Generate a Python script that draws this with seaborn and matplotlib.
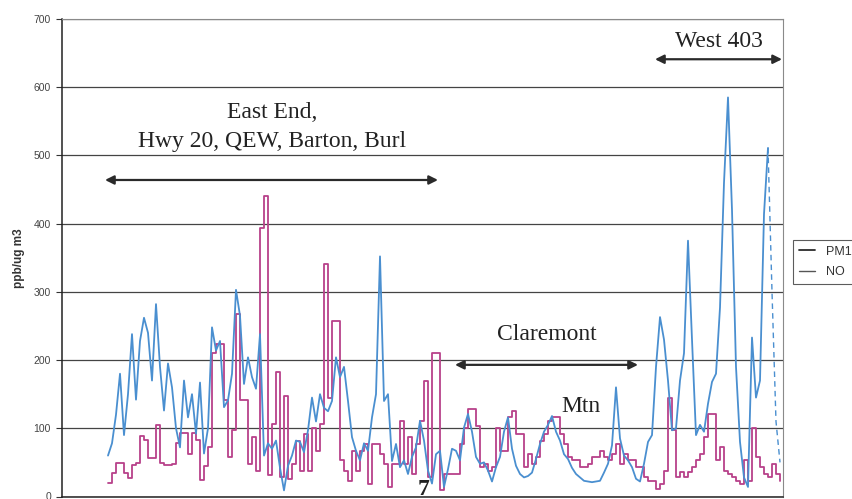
import matplotlib
matplotlib.use("Agg")
import matplotlib.pyplot as plt
from matplotlib.lines import Line2D
import numpy as np
import pandas as pd
import seaborn as sns

# NO concentration along the drive (ppb), one reading per sample
no_ppb = [
    60, 78, 120, 180, 90, 150, 238, 142, 228, 262,
    240, 170, 282, 190, 126, 195, 160, 100, 72, 170,
    116, 150, 92, 167, 63, 100, 248, 214, 228, 131,
    141, 180, 303, 265, 165, 204, 175, 158, 238, 60,
    78, 70, 82, 42, 9, 45, 60, 82, 80, 65,
    97, 145, 110, 150, 130, 125, 140, 204, 175, 190,
    140, 87, 67, 53, 78, 67, 116, 150, 352, 140,
    150, 52, 77, 43, 53, 33, 58, 72, 111, 82,
    38, 19, 62, 67, 14, 40, 70, 67, 53, 101,
    121, 95, 58, 48, 50, 38, 22, 43, 58, 95,
    116, 70, 45, 33, 28, 30, 35, 55, 77, 95,
    105, 118, 95, 82, 62, 55, 42, 33, 28, 23,
    22, 21, 22, 23, 35, 48, 75, 160, 85, 60,
    53, 43, 26, 22, 48, 80, 90, 190, 263, 230,
    170, 97, 100, 170, 210, 375, 230, 90, 105, 95,
    136, 168, 180, 277, 460, 585, 420, 190, 80, 28,
    14, 233, 145, 170, 414, 511, 300, 110, 50,
]

# PM10 concentration (ug/m3), stepped averages on the same samples
pm10_ugm3 = [
    20, 34, 49, 49, 34, 27, 46, 49, 88, 83,
    56, 56, 105, 49, 46, 46, 48, 78, 93, 93,
    63, 93, 83, 24, 44, 73, 210, 224, 224, 141,
    58, 98, 268, 141, 141, 48, 87, 38, 394, 441,
    31, 106, 182, 28, 148, 26, 48, 82, 38, 92,
    38, 101, 67, 106, 341, 145, 258, 258, 53, 38,
    23, 67, 38, 67, 77, 18, 77, 77, 62, 48,
    14, 48, 48, 111, 48, 87, 33, 77, 111, 170,
    28, 211, 211, 9, 33, 33, 33, 33, 77, 101,
    128, 128, 104, 43, 48, 38, 43, 101, 67, 67,
    116, 126, 92, 92, 43, 62, 48, 58, 82, 92,
    111, 116, 116, 92, 77, 58, 53, 53, 43, 43,
    48, 58, 58, 67, 58, 53, 62, 77, 48, 62,
    53, 53, 43, 43, 28, 23, 23, 11, 19, 38,
    145, 97, 28, 36, 28, 36, 43, 53, 62, 87,
    121, 121, 53, 72, 38, 33, 28, 23, 19, 53,
    23, 101, 58, 43, 33, 28, 48, 33, 23,
]

y_ticks = [0, 100, 200, 300, 400, 500, 600, 700]
series_names = ["PM10", "NO"]

sample = np.arange(len(no_ppb))
df = pd.DataFrame({"sample": sample, "NO": no_ppb, "PM10": pm10_ugm3})

sns.set_style("white")
plt.rcParams["font.family"] = ["Liberation Sans", "DejaVu Sans"]

fig = plt.figure(figsize=(8.52, 4.99), dpi=100)
ax = fig.add_axes([62 / 852, 2.5 / 499, 721 / 852, 477.5 / 499])

pm_color = "#b8418a"
no_color = "#4a8fd0"

sns.lineplot(data=df, x="sample", y="PM10", ax=ax, color=pm_color,
             lw=1.3, drawstyle="steps-post", zorder=3)
tail = 165
sns.lineplot(data=df.iloc[:tail + 1], x="sample", y="NO", ax=ax,
             color=no_color, lw=1.3, zorder=4)
sns.lineplot(data=df.iloc[tail:], x="sample", y="NO", ax=ax,
             color=no_color, lw=1.0, ls=(0, (4, 3)), zorder=4)

ax.set_xlim(-11.5, 168.75)
ax.set_ylim(0, 700)
ax.set_yticks(y_ticks)
ax.set_yticklabels([str(v) for v in y_ticks])
ax.set_xticks([])
ax.set_xlabel("")
ax.set_ylabel("ppb/ug m3", fontsize=8.5, fontweight="bold", color="#333333",
              labelpad=6)
ax.tick_params(axis="y", direction="out", length=4, width=0.8,
               color="#333333", labelsize=7.5, labelcolor="#444444", pad=4,
               left=True)
ax.yaxis.grid(True, color="#444444", lw=0.9)
ax.set_axisbelow(True)

for side in ("left", "bottom"):
    ax.spines[side].set_color("#222222")
    ax.spines[side].set_linewidth(1.1)
for side in ("top", "right"):
    ax.spines[side].set_color("#8a8a8a")
    ax.spines[side].set_linewidth(0.8)

# Route segment labels and spans
serif = ["Liberation Serif", "DejaVu Serif"]
txt = dict(family=serif, fontsize=17, color="#222222", ha="center",
           va="baseline")
ax.text(41, 555, "East End,", **txt)
ax.text(41, 512, "Hwy 20, QEW, Barton, Burl", **txt)
ax.text(109.6, 229, "Claremont", **txt)
ax.text(118.2, 124, "Mtn", **txt)
ax.text(152.7, 659, "West 403", **txt)
ax.text(78.8, 2, "7", family=serif, fontsize=17, fontweight="bold",
        color="#222222", ha="center", va="baseline")

arrow = dict(arrowstyle="<|-|>", color="#2a2a2a", lw=1.6,
             mutation_scale=13, shrinkA=0, shrinkB=0)
ax.annotate("", xy=(82.5, 464), xytext=(-0.75, 464), arrowprops=arrow)
ax.annotate("", xy=(132.5, 193), xytext=(86.75, 193), arrowprops=arrow)
ax.annotate("", xy=(168.5, 641), xytext=(136.75, 641), arrowprops=arrow,
            annotation_clip=False)

handles = [Line2D([], [], color="#2b2b2b", lw=1.3),
           Line2D([], [], color="#555555", lw=1.0)]
leg = fig.legend(handles, series_names, loc="upper left",
                 bbox_to_anchor=(793 / 852, 1 - 240 / 499),
                 bbox_transform=fig.transFigure, frameon=True,
                 fancybox=False, fontsize=9, handlelength=1.3,
                 handletextpad=0.9, labelspacing=0.7, borderpad=0.45,
                 borderaxespad=0)
leg.get_frame().set_edgecolor("#333333")
leg.get_frame().set_linewidth(0.8)
for t in leg.get_texts():
    t.set_color("#333333")

fig.savefig("out.png", dpi=100)
